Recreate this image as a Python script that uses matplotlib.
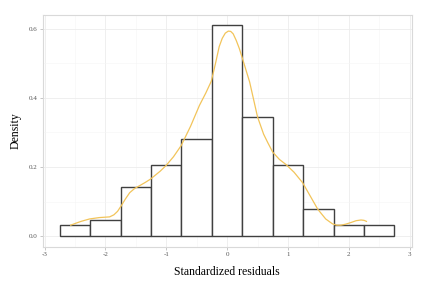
import numpy as np
import matplotlib.pyplot as plt

# histogram of standardized residuals (density scale, binwidth 0.5)
bin_edges = [-2.75, -2.25, -1.75, -1.25, -0.75, -0.25, 0.25, 0.75, 1.25, 1.75, 2.25, 2.75]
densities = [0.032, 0.048, 0.142, 0.205, 0.282, 0.610, 0.345, 0.205, 0.079, 0.032, 0.032]

# density curve
kde_x = [-2.57, -2.48, -2.40, -2.26, -2.10, -1.93, -1.86, -1.80, -1.74, -1.67, -1.60,
         -1.52, -1.44, -1.35, -1.26, -1.10, -1.00, -0.88, -0.755, -0.60, -0.455, -0.35,
         -0.26, -0.19, -0.13, -0.08, -0.03, 0.02, 0.06, 0.10, 0.15, 0.20, 0.25,
         0.37, 0.50, 0.60, 0.67, 0.75, 0.86, 0.97, 1.10, 1.24, 1.37, 1.49, 1.62, 1.73,
         1.80, 1.87, 1.95, 2.04, 2.12, 2.20, 2.25, 2.29]
kde_y = [0.032, 0.038, 0.043, 0.050, 0.054, 0.056, 0.062, 0.072, 0.088, 0.108, 0.126,
         0.138, 0.146, 0.155, 0.165, 0.188, 0.205, 0.230, 0.262, 0.318, 0.378, 0.414,
         0.448, 0.500, 0.548, 0.572, 0.587, 0.593, 0.592, 0.585, 0.566, 0.543, 0.515,
         0.446, 0.345, 0.295, 0.270, 0.243, 0.222, 0.207, 0.185, 0.155, 0.115, 0.078,
         0.050, 0.036, 0.032, 0.032, 0.035, 0.040, 0.045, 0.047, 0.046, 0.043]

plt.rcParams['font.family'] = ['Liberation Serif', 'DejaVu Serif']

fig = plt.figure(figsize=(4.3, 2.85), dpi=100)
ax = fig.add_axes([0.100, 0.134, 0.857, 0.814])

ax.bar(bin_edges[:-1], densities, width=np.diff(bin_edges), align='edge',
       facecolor='white', edgecolor='#404040', linewidth=1.0, zorder=2)
ax.plot(kde_x, kde_y, color='#F2C45A', linewidth=0.9, zorder=3)

ax.set_xlim(-3.025, 3.03)
ax.set_ylim(-0.0305, 0.64)
ax.set_xticks([-3, -2, -1, 0, 1, 2, 3])
ax.set_xticklabels(['-3', '-2', '-1', '0', '1', '2', '3'])
ax.set_yticks([0.0, 0.2, 0.4, 0.6])
ax.set_yticklabels(['0.0', '0.2', '0.4', '0.6'])
ax.set_xticks(np.arange(-2.5, 3, 1.0), minor=True)
ax.set_yticks([0.1, 0.3, 0.5], minor=True)

ax.grid(True, which='major', color='#ececec', linewidth=0.6, zorder=0)
ax.grid(True, which='minor', color='#f5f5f5', linewidth=0.4, zorder=0)
ax.set_axisbelow(True)
for s in ax.spines.values():
    s.set_color('#d9d9d9')
    s.set_linewidth(0.8)

ax.tick_params(which='major', length=2, width=0.5, color='#b0b0b0',
               labelsize=5, labelcolor='#555555', pad=2)
ax.tick_params(which='minor', length=0)

ax.set_xlabel('Standardized residuals', fontsize=8.5, labelpad=6)
ax.set_ylabel('Density', fontsize=8.5, labelpad=5)

fig.savefig('out.png', dpi=100)
